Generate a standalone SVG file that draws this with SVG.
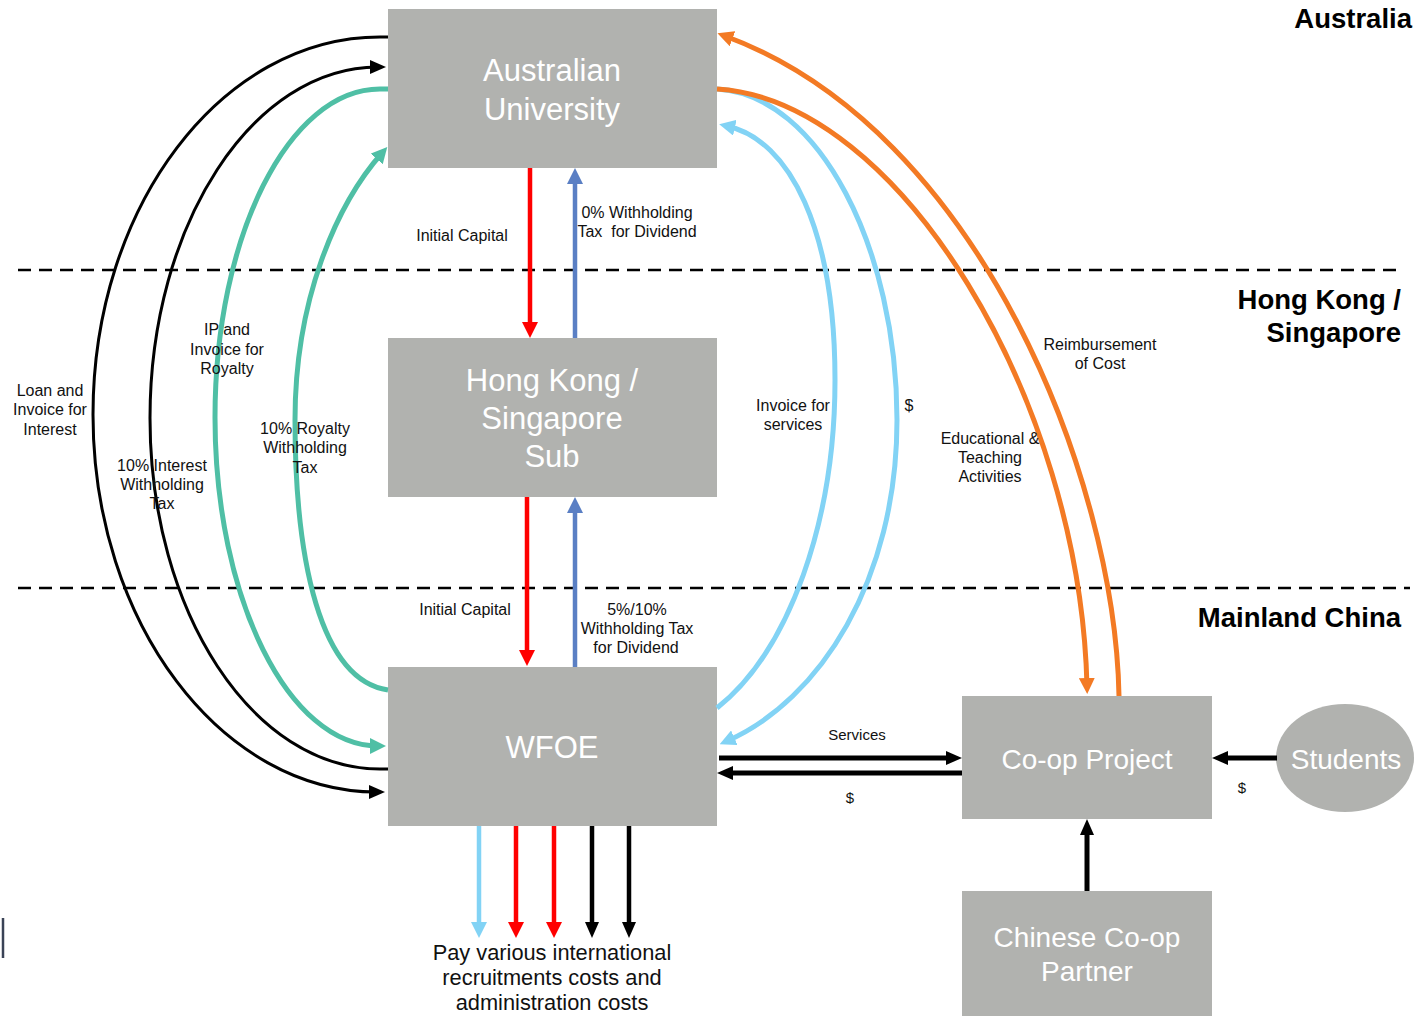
<svg xmlns="http://www.w3.org/2000/svg" width="1414" height="1016" viewBox="0 0 1414 1016">
<style>
.box{fill:#B1B2AF}
.nt{font-family:"Liberation Sans",Arial,sans-serif;font-size:31px;fill:#FFFFFF;text-anchor:middle}
.nt2{font-family:"Liberation Sans",Arial,sans-serif;font-size:28px;fill:#FFFFFF;text-anchor:middle}
.lb{font-family:"Liberation Sans",Arial,sans-serif;font-size:16px;fill:#111;text-anchor:middle}
.rg{font-family:"Liberation Sans",Arial,sans-serif;font-size:27.5px;font-weight:bold;fill:#000;text-anchor:end}
.big{font-family:"Liberation Sans",Arial,sans-serif;font-size:21.8px;fill:#111;text-anchor:middle}
.dash{stroke:#000;stroke-width:2.5;stroke-dasharray:13 8;fill:none}
.c{fill:none}
.k{stroke:#000;stroke-width:3}
.kt{stroke:#000;stroke-width:5}
.tl{stroke:#4FBFA5;stroke-width:5}
.lbl{stroke:#82D3F5;stroke-width:5}
.or{stroke:#F37A24;stroke-width:5}
.rd{stroke:#FF0000;stroke-width:4.5}
.bl{stroke:#5A7FC4;stroke-width:4.5}
</style>
<defs>
<marker id="a-k" viewBox="0 0 16 14" refX="8" refY="7" markerWidth="16" markerHeight="14" orient="auto" markerUnits="userSpaceOnUse"><path d="M0,0 L16,7 L0,14 z" fill="#000"/></marker>
<marker id="a-tl" viewBox="0 0 16 16" refX="8" refY="8" markerWidth="16" markerHeight="16" orient="auto" markerUnits="userSpaceOnUse"><path d="M0,0 L16,8 L0,16 z" fill="#4FBFA5"/></marker>
<marker id="a-lb" viewBox="0 0 16 16" refX="8" refY="8" markerWidth="16" markerHeight="16" orient="auto" markerUnits="userSpaceOnUse"><path d="M0,0 L16,8 L0,16 z" fill="#82D3F5"/></marker>
<marker id="a-or" viewBox="0 0 16 16" refX="8" refY="8" markerWidth="16" markerHeight="16" orient="auto" markerUnits="userSpaceOnUse"><path d="M0,0 L16,8 L0,16 z" fill="#F37A24"/></marker>
<marker id="a-rd" viewBox="0 0 16 16" refX="8" refY="8" markerWidth="16" markerHeight="16" orient="auto" markerUnits="userSpaceOnUse"><path d="M0,0 L16,8 L0,16 z" fill="#FF0000"/></marker>
<marker id="a-bl" viewBox="0 0 16 16" refX="8" refY="8" markerWidth="16" markerHeight="16" orient="auto" markerUnits="userSpaceOnUse"><path d="M0,0 L16,8 L0,16 z" fill="#5A7FC4"/></marker>
</defs>
<rect width="1414" height="1016" fill="#FFFFFF"/>

<g id="dividers">
<line class="dash" x1="18" y1="270" x2="1400" y2="270"/>
<line class="dash" x1="18" y1="588" x2="1410" y2="588"/>
</g>

<g id="regions">
<text class="rg" x="1412" y="28">Australia</text>
<text class="rg" x="1401" y="309">Hong Kong /</text>
<text class="rg" x="1401" y="342">Singapore</text>
<text class="rg" x="1401" y="627">Mainland China</text>
</g>

<g id="node-au"><rect class="box" x="388" y="9" width="329" height="159"/>
<text class="nt" x="552" y="81">Australian</text><text class="nt" x="552" y="120">University</text></g>
<g id="node-hk"><rect class="box" x="388" y="338" width="329" height="159"/>
<text class="nt" x="552" y="391">Hong Kong /</text><text class="nt" x="552" y="429">Singapore</text><text class="nt" x="552" y="467">Sub</text></g>
<g id="node-wfoe"><rect class="box" x="388" y="667" width="329" height="159"/>
<text class="nt" x="552" y="758">WFOE</text></g>
<g id="node-coop"><rect class="box" x="962" y="696" width="250" height="123"/>
<text class="nt2" x="1087" y="769">Co-op Project</text></g>
<g id="node-partner"><rect class="box" x="962" y="891" width="250" height="125"/>
<text class="nt2" x="1087" y="947">Chinese Co-op</text><text class="nt2" x="1087" y="981">Partner</text></g>
<g id="node-students"><ellipse class="box" cx="1345" cy="758" rx="69" ry="54"/>
<text class="nt2" x="1346" y="769">Students</text></g>

<g id="connectors">
<path class="c k" d="M388,37 L380,37 C221.5,37 93,206 93,414.5 C93,623 221.5,792 377,792" marker-end="url(#a-k)"/>
<path class="c k" d="M388,769 L380,769 C253,769 150,612 150,418 C150,224 253,67 378,67" marker-end="url(#a-k)"/>
<path class="c tl" d="M388,89 L380,89 C289,89 215,236 215,417.5 C215,599 289,746 378,746" marker-end="url(#a-tl)"/>
<path class="c tl" d="M388,690 C320,680 295,560 295,420 C295,300 336,205 382,153" marker-end="url(#a-tl)"/>
<path class="c lbl" d="M717,708 C790,650 835,520 835,380 C835,230 790,140 727,126" marker-end="url(#a-lb)"/>
<path class="c lbl" d="M717,89 C820,95 897,250 897,420 C897,580 820,700 727,741" marker-end="url(#a-lb)"/>
<path class="c or" d="M1119,696 C1115,480 980,130 725,36" marker-end="url(#a-or)"/>
<path class="c or" d="M717,89 C900,100 1080,400 1087,686" marker-end="url(#a-or)"/>
<line class="rd" x1="530" y1="168" x2="530" y2="330" marker-end="url(#a-rd)"/>
<line class="bl" x1="575" y1="338" x2="575" y2="176" marker-end="url(#a-bl)"/>
<line class="rd" x1="527" y1="497" x2="527" y2="658" marker-end="url(#a-rd)"/>
<line class="bl" x1="575" y1="667" x2="575" y2="505" marker-end="url(#a-bl)"/>
<line class="kt" x1="719" y1="758" x2="954" y2="758" marker-end="url(#a-k)"/>
<line class="kt" x1="962" y1="773" x2="725" y2="773" marker-end="url(#a-k)"/>
<line class="kt" x1="1277" y1="758" x2="1220" y2="758" marker-end="url(#a-k)"/>
<line class="kt" x1="1087" y1="891" x2="1087" y2="827" marker-end="url(#a-k)"/>
<line class="lbl" style="stroke-width:4.5" x1="479" y1="826" x2="479" y2="930" marker-end="url(#a-lb)"/>
<line class="rd" x1="516" y1="826" x2="516" y2="930" marker-end="url(#a-rd)"/>
<line class="rd" x1="554" y1="826" x2="554" y2="930" marker-end="url(#a-rd)"/>
<line class="k" style="stroke-width:4.5" x1="592" y1="826" x2="592" y2="930" marker-end="url(#a-k)"/>
<line class="k" style="stroke-width:4.5" x1="629" y1="826" x2="629" y2="930" marker-end="url(#a-k)"/>
</g>

<g id="labels">
<text class="lb" x="462" y="241">Initial Capital</text>
<text class="lb" x="637" y="218">0% Withholding</text>
<text class="lb" x="637" y="237" xml:space="preserve">Tax  for Dividend</text>
<text class="lb" x="465" y="615">Initial Capital</text>
<text class="lb" x="637" y="615">5%/10%</text>
<text class="lb" x="637" y="634">Withholding Tax</text>
<text class="lb" x="636" y="653">for Dividend</text>
<text class="lb" x="227" y="335">IP and</text>
<text class="lb" x="227" y="355">Invoice for</text>
<text class="lb" x="227" y="374">Royalty</text>
<text class="lb" x="50" y="396">Loan and</text>
<text class="lb" x="50" y="415">Invoice for</text>
<text class="lb" x="50" y="435">Interest</text>
<text class="lb" x="162" y="471">10% Interest</text>
<text class="lb" x="162" y="490">Withholding</text>
<text class="lb" x="162" y="509">Tax</text>
<text class="lb" x="305" y="434">10% Royalty</text>
<text class="lb" x="305" y="453">Withholding</text>
<text class="lb" x="305" y="473">Tax</text>
<text class="lb" x="793" y="411">Invoice for</text>
<text class="lb" x="793" y="430">services</text>
<text class="lb" x="909" y="411">$</text>
<text class="lb" x="990" y="444">Educational &amp;</text>
<text class="lb" x="990" y="463">Teaching</text>
<text class="lb" x="990" y="482">Activities</text>
<text class="lb" x="1100" y="350">Reimbursement</text>
<text class="lb" x="1100" y="369">of Cost</text>
<text class="lb" x="857" y="740" style="font-size:15px">Services</text>
<text class="lb" x="850" y="803" style="font-size:15px">$</text>
<text class="lb" x="1242" y="793" style="font-size:15px">$</text>
<text class="big" x="552" y="960">Pay various international</text>
<text class="big" x="552" y="985">recruitments costs and</text>
<text class="big" x="552" y="1010">administration costs</text>
</g>
<line x1="3" y1="918" x2="3" y2="958" stroke="#3A4356" stroke-width="2.5"/>
</svg>
